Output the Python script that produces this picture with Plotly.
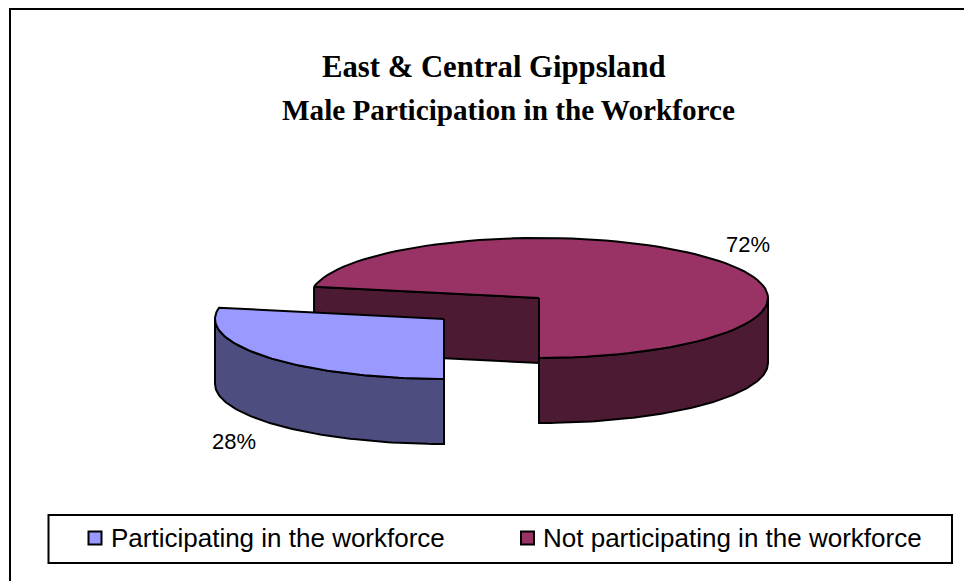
import numpy as np
import plotly.graph_objects as go

TITLE_LINES = ["East &amp; Central Gippsland", "Male Participation in the Workforce"]
labels = ["Participating in the workforce", "Not participating in the workforce"]
shares = [28, 72]
top_colors = ["#9999ff", "#993366"]
side_colors = ["#4d4d80", "#4d1a33"]

# pie geometry, in page pixels
RX, RY, DEPTH = 229, 60, 65
CENTER = (539, 298)
EXPLODED = (444, 319)


def rim(start, stop, center):
    # angles are clockwise from 6 o'clock, as the slices are laid out
    a = np.radians(np.linspace(start, stop, 90))
    return center[0] - RX * np.sin(a), center[1] + RY * np.cos(a)


def poly(fig, x, y, color):
    fig.add_trace(
        go.Scatter(
            x=list(x) + [x[0]],
            y=list(y) + [y[0]],
            mode="lines",
            fill="toself",
            fillcolor=color,
            line=dict(color="black", width=2),
            hoverinfo="skip",
            showlegend=False,
        )
    )


split = 360 * shares[0] / sum(shares)
fig = go.Figure()

# big slice: cut wall first, then outer wall, then the top
cx, cy = CENTER
ex, ey = rim(split, split, CENTER)
poly(fig, [ex[0], cx, cx, ex[0]], [ey[0], cy, cy + DEPTH, ey[0] + DEPTH], side_colors[1])
x, y = rim(360, 270, CENTER)
poly(fig, np.r_[x, x[::-1]], np.r_[y, y[::-1] + DEPTH], side_colors[1])
x, y = rim(split, 360, CENTER)
poly(fig, np.r_[cx, x], np.r_[cy, y], top_colors[1])

# exploded slice
cx, cy = EXPLODED
x, y = rim(0, 90, EXPLODED)
poly(fig, np.r_[x, x[::-1]], np.r_[y, y[::-1] + DEPTH], side_colors[0])
x, y = rim(0, split, EXPLODED)
poly(fig, np.r_[cx, x], np.r_[cy, y], top_colors[0])

# legend keys
fig.add_trace(
    go.Scatter(
        x=[95, 527.5],
        y=[538, 538],
        mode="markers",
        marker=dict(symbol="square", size=13, color=top_colors, line=dict(color="black", width=2)),
        hoverinfo="skip",
        showlegend=False,
    )
)

fig.add_shape(type="rect", x0=10, y0=9, x1=980, y1=600, line=dict(color="black", width=2), fillcolor="white", layer="below")
fig.add_shape(type="rect", x0=48.5, y0=515, x1=952, y1=563, line=dict(color="black", width=2), layer="below")

for text, px, py in (("28%", 234, 441), ("72%", 748, 244)):
    fig.add_annotation(x=px, y=py, text=text, showarrow=False, font=dict(family="Liberation Sans", size=22, color="black"))
for text, px in zip(labels, (109, 541)):
    fig.add_annotation(x=px, y=538, text=text, showarrow=False, xanchor="left", font=dict(family="Liberation Sans", size=26, color="black"))
for text, px, py, size in zip(TITLE_LINES, (494, 508), (67, 110), (30.7, 29.2)):
    fig.add_annotation(x=px, y=py, text=f"<b>{text}</b>", showarrow=False, font=dict(family="Liberation Serif", size=size, color="black"))

fig.update_layout(
    width=964,
    height=581,
    margin=dict(l=0, r=0, t=0, b=0),
    paper_bgcolor="white",
    plot_bgcolor="white",
    xaxis=dict(range=[0, 964], visible=False),
    yaxis=dict(range=[581, 0], visible=False),
    showlegend=False,
)
fig.write_html("out.html", config=dict(displayModeBar=False), post_script="document.body.style.margin = '0';")
